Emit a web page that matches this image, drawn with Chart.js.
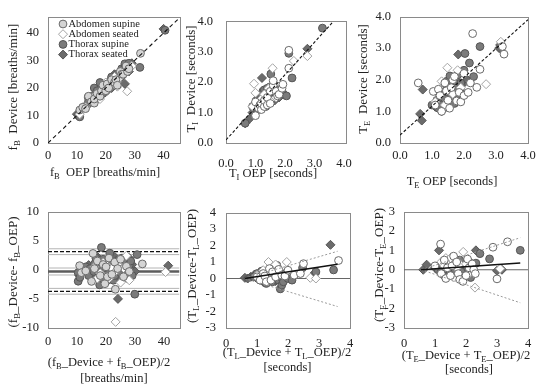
<!DOCTYPE html>
<html>
<head>
<meta charset="utf-8">
<script src="https://cdn.jsdelivr.net/npm/chart.js@4.4.0/dist/chart.umd.min.js"></script>
<style>
  html, body { margin: 0; padding: 0; background: #fff; }
  body { position: relative; width: 550px; height: 389px; overflow: hidden; }
  canvas { position: absolute; }
</style>
</head>
<body>
<canvas id="c1" width="185" height="190" style="left:0;top:0"></canvas>
<canvas id="c2" width="180" height="190" style="left:185px;top:0"></canvas>
<canvas id="c3" width="200" height="195" style="left:350px;top:0"></canvas>
<canvas id="c4" width="185" height="194" style="left:0;top:195px"></canvas>
<canvas id="c5" width="180" height="194" style="left:185px;top:195px"></canvas>
<canvas id="c6" width="185" height="194" style="left:365px;top:195px"></canvas>
<script>
const seriesNames = ['Abdomen supine', 'Abdomen seated', 'Thorax supine', 'Thorax seated'];

// fB  OEP vs Device [breaths/min]
const fbAbdomenSupine = [[11,12],[12,13],[13,12.5],[14,17],[15,15],[16,14.5],[16,16],[17,18],[18,17],[18.5,19],[19,21],[20,19],[20.5,21.5],[21,20],[22,23],[23,22],[23.5,23],[24,21],[25,26],[25.5,25],[26,25],[27,28],[27.5,26],[28,27],[32,32.6]];
const fbAbdomenSeated = [[11,10.5],[13,13],[15,16],[16,17],[17,17.5],[18,16],[19,19],[20,22],[21,21.5],[22,21],[23,24],[24,20.5],[25,24],[26,25.5],[27.4,18.8],[29,28]];
const fbThoraxSupine = [[10.5,10],[11,9.5],[13.9,16.7],[14,15],[15,17],[15.5,15.5],[16.8,19.7],[16,20],[17,19],[17.5,17],[18,22],[19,18],[19.5,20.5],[20,20],[21,21],[21.5,22.5],[22,24],[23,23],[24,25],[24.5,24],[25.5,27],[26,26.5],[26.6,28.8],[27,26],[27.5,28],[28,29],[31.8,27.5],[40.5,41]];
const fbThoraxSeated = [[10,10.5],[12.2,13],[14,14],[15,16],[16,15],[17,16],[18,18],[18.5,19.5],[19,20],[20,21],[20.5,19],[21,22],[22,20],[22.5,23],[23,25],[24,23],[24.5,25.5],[25,25],[25.5,24],[26,27],[26.6,21.5],[27,27],[28,26],[29,29],[40,41.5]];
const fbIdentity = [[0,0],[45.5,45.5]];

// TI  OEP vs Device [seconds]
const tiAbdomenSupine = [[1.0,0.9],[1.0,1.35],[1.1,1.15],[1.15,1.25],[1.2,1.1],[1.2,1.3],[1.3,1.2],[1.3,1.4],[1.4,1.25],[1.4,1.5],[1.5,1.3],[1.5,1.7],[1.6,1.9],[1.6,2.05],[1.7,1.7],[1.75,1.55],[1.8,1.6],[1.9,1.8],[1.93,1.93],[2.13,3.05],[2.13,2.46]];
const tiAbdomenSeated = [[0.9,1.2],[0.95,1.95],[1.0,1.65],[1.2,1.45],[1.3,1.6],[1.45,1.8],[1.5,1.4],[1.58,2.46],[1.7,1.5],[2.3,2.7],[2.76,2.86]];
const tiThoraxSupine = [[0.65,0.65],[0.9,1.2],[1.0,1.15],[1.0,1.3],[1.1,1.1],[1.1,1.45],[1.15,1.4],[1.2,1.35],[1.2,1.6],[1.25,1.25],[1.25,1.7],[1.3,1.75],[1.35,1.2],[1.35,1.5],[1.4,1.6],[1.4,1.8],[1.45,1.3],[1.5,1.6],[1.5,1.85],[1.52,2.27],[1.55,1.45],[1.6,1.8],[1.65,1.6],[1.7,1.6],[1.75,1.75],[1.85,1.65],[1.9,1.7],[1.95,1.6],[2.05,1.55],[2.13,2.95],[2.24,2.14],[3.27,3.78]];
const tiThoraxSeated = [[0.65,0.65],[0.8,0.8],[0.9,1.0],[1.0,1.1],[1.05,1.45],[1.1,1.25],[1.15,1.3],[1.22,2.14],[1.25,1.5],[1.3,1.45],[1.35,1.35],[1.4,1.7],[1.45,1.55],[1.5,1.5],[1.55,1.75],[1.65,1.4],[1.7,1.7],[1.8,1.5],[2.76,3.1]];
const tiFit = [[0,0.1],[3.64,4.0]];

// TE  OEP vs Device [seconds]
const teAbdomenSupine = [[0.57,1.9],[1.04,1.63],[1.1,1.2],[1.2,1.7],[1.25,1.5],[1.3,1.0],[1.4,1.9],[1.45,1.65],[1.5,1.35],[1.55,1.1],[1.6,1.75],[1.65,2.0],[1.7,2.1],[1.77,1.33],[1.85,1.6],[1.9,1.3],[2.0,2.2],[2.0,1.5],[2.13,1.6],[2.2,1.9],[2.27,3.46],[2.4,1.76],[2.5,2.33],[3.2,3.05],[3.25,2.81]];
const teAbdomenSeated = [[1.1,1.3],[1.2,1.55],[1.3,1.95],[1.4,1.2],[1.48,2.38],[1.5,1.7],[1.65,1.55],[1.8,2.3],[1.9,1.75],[2.69,1.86],[3.15,3.2]];
const teThoraxSupine = [[1.0,1.2],[1.15,1.35],[1.2,1.1],[1.2,1.3],[1.25,1.2],[1.3,1.2],[1.35,1.6],[1.35,1.45],[1.4,1.4],[1.45,1.95],[1.5,1.6],[1.56,2.12],[1.6,1.5],[1.6,1.8],[1.69,2.0],[1.7,1.25],[1.7,1.9],[1.75,1.7],[1.8,2.15],[1.8,1.75],[1.9,1.55],[1.9,1.9],[2.0,2.3],[2.03,2.83],[2.17,2.53],[2.3,2.1],[2.5,3.05]];
const teThoraxSeated = [[0.63,0.92],[0.68,0.71],[0.71,1.69],[1.1,1.15],[1.2,1.25],[1.25,1.3],[1.3,1.0],[1.35,1.2],[1.4,1.85],[1.45,1.5],[1.5,1.3],[1.6,1.9],[1.65,1.7],[1.7,1.6],[1.75,1.45],[1.82,2.8],[1.85,1.8],[1.95,1.6],[2.0,1.9],[2.1,2.0],[3.1,3.0],[3.13,3.1]];
const teFit = [[0,0.25],[4,3.9]];

// Bland-Altman fB: mean vs difference
const baFbAbdomenSupine = [[10.9,0.7],[11.5,-0.5],[13,-0.2],[15.5,2.8],[15,-2.0],[16,0.2],[17,1.5],[18,-1.0],[19,0.9],[19.6,-2.4],[20,0.5],[20.5,-1.2],[21,2.0],[22,-0.8],[23,1.3],[23.2,-3.35],[24,0.2],[25,1.8],[26,-1.2],[27,0.6],[28,-0.3],[32.5,1.0]];
const baFbAbdomenSeated = [[16,0.5],[17,-1.5],[18,-0.6],[19,1.2],[20,0.9],[21,-1.5],[22,0.2],[23,-0.4],[23.3,-8.95],[24,1.0],[25,-2.2],[26,0.3],[27,2.4],[28,-1.8],[40.5,-0.4]];
const baFbThoraxSupine = [[10.4,-0.5],[10.4,-1.97],[11,-1.3],[13,0.5],[14,-1.0],[14.5,0.2],[15.8,-0.3],[16,1.0],[16.5,2.0],[17,0.6],[17.5,-0.5],[17.8,-2.6],[18,1.2],[18.4,3.83],[19,1.8],[19,-1.6],[19.5,0.3],[20,0.0],[20.5,-0.8],[21,1.5],[21.3,2.85],[22,1.0],[22.5,-1.8],[23,-1.0],[23.5,0.8],[24,0.5],[24.5,-0.2],[25,-0.5],[25.5,2.0],[26,1.3],[26.5,0.2],[27,-0.8],[27.5,-1.5],[28,0.8],[28.5,1.5],[29,-1.0],[29.9,-4.2],[30.7,2.6]];
const baFbThoraxSeated = [[10.8,-1.0],[14,0.8],[15,-0.5],[16,-1.4],[17,2.2],[18,0.3],[18.5,-0.9],[19,-1.2],[20,1.3],[20,-2.2],[21,-0.2],[21.5,0.7],[22,2.2],[22.5,-0.6],[23,2.2],[23.5,1.5],[24,-1.5],[24.1,-5.0],[25,1.2],[25.5,-1.1],[26,-0.6],[26.5,1.6],[27,0.5],[27.5,-0.3],[28,2.0],[29,0.9],[30,-0.3],[41.4,0.7]];
const baFbBias = -0.3;
const baFbLimits = [3.1, -3.7];
const baFbCi = [0.3, -0.9, 3.6, 2.6, -3.2, -4.2];

// Bland-Altman TI
const baTiAbdomenSupine = [[1.0,0.1],[1.1,-0.1],[1.2,0.3],[1.25,0.15],[1.3,-0.2],[1.4,0.6],[1.45,-0.1],[1.5,0.4],[1.6,0.1],[1.7,0.55],[1.8,0.2],[1.9,0.15],[2.0,0.5],[2.2,0.2],[2.4,0.3],[2.5,0.9],[3.63,1.09]];
const baTiAbdomenSeated = [[1.0,0.2],[1.2,0.5],[1.3,0.05],[1.37,1.0],[1.4,0.4],[1.5,0.7],[1.6,0.85],[1.7,0.3],[1.96,1.0],[2.72,0.04],[2.9,0.0]];
const baTiThoraxSupine = [[0.9,0.1],[1.0,0.3],[1.05,0.15],[1.1,-0.1],[1.15,0.45],[1.2,0.4],[1.25,0.0],[1.3,-0.3],[1.3,0.35],[1.35,0.1],[1.4,0.2],[1.45,0.35],[1.5,-0.2],[1.55,-0.05],[1.6,0.5],[1.64,0.8],[1.65,0.25],[1.7,-0.1],[1.75,-0.63],[1.75,0.1],[1.8,-0.4],[1.85,-0.2],[1.9,0.3],[2.0,0.0],[2.13,-0.1],[2.47,0.65],[2.9,0.4],[3.47,0.52]];
const baTiThoraxSeated = [[0.61,0.04],[0.7,0.0],[0.8,0.1],[0.9,0.2],[1.0,0.0],[1.05,0.2],[1.1,0.3],[1.15,0.05],[1.2,-0.2],[1.25,0.15],[1.3,0.25],[1.4,-0.1],[1.45,0.15],[1.55,0.3],[1.6,-0.15],[1.65,0.1],[2.86,0.33],[3.37,2.04]];
const baTiBias = [[0.6,0],[3.6,0.86]];
const baTiUpper = [[0.6,0],[3.6,1.65]];
const baTiLower = [[0.6,0],[3.6,-1.7]];

// Bland-Altman TE
const baTeAbdomenSupine = [[1.0,0.2],[1.18,1.32],[1.2,-0.2],[1.3,0.5],[1.35,-0.45],[1.4,0.1],[1.5,-0.3],[1.55,0.2],[1.6,0.7],[1.7,0.4],[1.75,-0.2],[1.8,-0.5],[1.9,-0.6],[2.0,-0.3],[2.05,0.55],[2.1,0.1],[2.2,0.3],[2.25,0.0],[2.3,-0.2],[2.87,1.16],[3.0,-0.47],[3.34,1.44]];
const baTeAbdomenSeated = [[1.2,0.4],[1.3,0.2],[1.35,0.6],[1.45,0.45],[1.5,0.6],[1.6,-0.4],[1.7,0.1],[1.8,0.3],[1.91,0.92],[2.0,0.3],[2.1,-0.2],[2.29,-0.92],[3.1,0.05]];
const baTeThoraxSupine = [[1.1,0.0],[1.2,-0.1],[1.25,0.2],[1.3,-0.3],[1.35,0.05],[1.4,0.3],[1.45,-0.3],[1.5,0.1],[1.5,-0.15],[1.55,0.35],[1.6,-0.2],[1.65,0.0],[1.7,0.25],[1.75,0.15],[1.8,0.5],[1.85,-0.2],[1.9,0.0],[1.95,0.25],[2.0,-0.3],[2.05,0.1],[2.1,0.4],[2.15,-0.4],[2.2,-0.1],[2.32,0.34],[2.45,0.83],[2.76,0.56],[3.75,1.0]];
const baTeThoraxSeated = [[0.62,0.0],[0.73,0.26],[1.0,0.1],[1.13,1.0],[1.2,0.1],[1.25,0.3],[1.3,-0.1],[1.4,0.15],[1.45,-0.05],[1.5,0.2],[1.6,0.0],[1.7,0.35],[1.9,0.2],[2.0,0.1],[2.32,1.0],[3.0,-0.05],[3.16,0.0]];
const baTeBias = [[0.55,0],[3.75,0.35]];
const baTeUpper = [[0.55,0],[3.75,1.65]];
const baTeLower = [[0.55,0],[3.75,-1.7]];

const fbTicks = [0, 10, 20, 30, 40];
const secTicks = [0, 1, 2, 3, 4];
const baFbTicks = [-10, -5, 0, 5, 10];
const baTiTicks = [-3, -2, -1, 0, 1, 2, 3, 4];
const baTeTicks = [-3, -2, -1, 0, 1, 2, 3];

const FONT = 'Liberation Serif';
const toPts = arr => arr.map(p => ({x: p[0], y: p[1]}));

function markerStyle(i, lightAbdomen) {
    return [
        {pointStyle: 'circle', pointRadius: 3.9, backgroundColor: lightAbdomen ? '#d4d4d4' : '#ffffff', borderColor: '#6a6a6a'},
        {pointStyle: 'rectRot', pointRadius: 4.5, backgroundColor: '#ffffff', borderColor: '#a3a3a3'},
        {pointStyle: 'circle', pointRadius: 3.9, backgroundColor: '#7b7b7b', borderColor: '#555555'},
        {pointStyle: 'rectRot', pointRadius: 4.5, backgroundColor: '#6b6b6b', borderColor: '#555555'}
    ][i];
}

function scatterSets(series, lightAbdomen) {
    return series.map((arr, i) => Object.assign({
        label: seriesNames[i],
        data: toPts(arr),
        pointBorderWidth: 1
    }, markerStyle(i, lightAbdomen)));
}

function lineSet(data, color, width, dash) {
    return {
        data: data,
        showLine: true,
        pointRadius: 0,
        borderColor: color,
        backgroundColor: color,
        borderWidth: width,
        borderDash: dash || []
    };
}

function hLine(y, range) {
    return [{x: range[0], y: y}, {x: range[1], y: y}];
}

// "_{..}" marks a subscript
function parseRich(s) {
    const parts = [];
    const re = /_\{([^}]*)\}/g;
    let last = 0, m;
    while ((m = re.exec(s))) {
        if (m.index > last) parts.push({t: s.slice(last, m.index)});
        parts.push({t: m[1], sub: true});
        last = re.lastIndex;
    }
    if (last < s.length) parts.push({t: s.slice(last)});
    return parts;
}

function richText(ctx, text, cx, cy, size) {
    const parts = parseRich(text);
    const main = size + 'px "' + FONT + '"';
    const sub = (size * 0.68).toFixed(1) + 'px "' + FONT + '"';
    let w = 0;
    parts.forEach(p => {
        ctx.font = p.sub ? sub : main;
        p.w = ctx.measureText(p.t).width;
        w += p.w;
    });
    let x = cx - w / 2;
    ctx.textAlign = 'left';
    ctx.textBaseline = 'middle';
    parts.forEach(p => {
        ctx.font = p.sub ? sub : main;
        ctx.fillText(p.t, x, cy + (p.sub ? size * 0.3 : 0));
        x += p.w;
    });
}

function drawMarker(ctx, st, x, y) {
    const r = st.pointRadius;
    ctx.beginPath();
    if (st.pointStyle === 'circle') {
        ctx.arc(x, y, r, 0, Math.PI * 2);
    } else {
        ctx.moveTo(x, y - r);
        ctx.lineTo(x + r, y);
        ctx.lineTo(x, y + r);
        ctx.lineTo(x - r, y);
        ctx.closePath();
    }
    ctx.fillStyle = st.backgroundColor;
    ctx.fill();
    ctx.lineWidth = 1;
    ctx.strokeStyle = st.borderColor;
    ctx.stroke();
}

const framePlugin = {
    id: 'frame',
    beforeDatasetsDraw(chart) {
        const {ctx, chartArea: a} = chart;
        ctx.save();
        ctx.strokeStyle = '#8a8a8a';
        ctx.lineWidth = 1;
        const l = Math.round(a.left) + 0.5, t = Math.round(a.top) + 0.5;
        ctx.strokeRect(l, t, Math.round(a.right) - Math.round(a.left), Math.round(a.bottom) - Math.round(a.top));
        ctx.restore();
    }
};

function makePanel(id, cfg) {
    const canvas = document.getElementById(id);
    const W = canvas.width, H = canvas.height;
    const area = cfg.area;
    const tickFont = {family: FONT, size: 12.5};
    const fmt = v => cfg.decimals ? Number(v).toFixed(cfg.decimals) : String(v);

    const textPlugin = {
        id: 'axisText',
        afterDraw(chart) {
            const ctx = chart.ctx;
            ctx.save();
            ctx.fillStyle = '#222';
            cfg.xTitle.forEach(t => richText(ctx, t.text, t.x, t.y, 12.5));
            ctx.save();
            ctx.translate(cfg.yTitle.x, cfg.yTitle.y);
            ctx.rotate(-Math.PI / 2);
            richText(ctx, cfg.yTitle.text, 0, 0, 13);
            ctx.restore();
            if (cfg.legend) {
                seriesNames.forEach((name, i) => {
                    const y = cfg.legend.y + i * cfg.legend.dy;
                    drawMarker(ctx, markerStyle(i, true), cfg.legend.x, y);
                    ctx.fillStyle = '#222';
                    ctx.font = cfg.legend.size + 'px "' + FONT + '"';
                    ctx.textAlign = 'left';
                    ctx.textBaseline = 'middle';
                    ctx.fillText(name, cfg.legend.x + 5.5, y);
                });
            }
            ctx.restore();
        }
    };

    return new Chart(canvas, {
        type: 'scatter',
        data: {datasets: cfg.datasets},
        options: {
            responsive: false,
            animation: false,
            events: [],
            layout: {padding: {left: 0, top: area[1], right: W - area[2], bottom: 0}},
            plugins: {legend: {display: false}, tooltip: {enabled: false}},
            scales: {
                x: {
                    type: 'linear', min: cfg.x[0], max: cfg.x[1],
                    afterBuildTicks: s => { s.ticks = cfg.xTicks.map(v => ({value: v})); },
                    afterFit: s => { s.height = H - area[3]; },
                    grid: {display: false, drawTicks: false},
                    border: {display: false},
                    ticks: {padding: cfg.xPad, font: tickFont, color: '#222', maxRotation: 0, autoSkip: false, callback: fmt}
                },
                y: {
                    type: 'linear', min: cfg.y[0], max: cfg.y[1],
                    afterBuildTicks: s => { s.ticks = cfg.yTicks.map(v => ({value: v})); },
                    afterFit: s => { s.width = area[0]; },
                    grid: {display: false, drawTicks: false},
                    border: {display: false},
                    ticks: {padding: cfg.yPad, font: tickFont, color: '#222', autoSkip: false, callback: fmt}
                }
            }
        },
        plugins: [framePlugin, textPlugin]
    });
}

makePanel('c1', {
    area: [48, 15, 180, 143], x: [0, 45.5], y: [0, 46], xTicks: fbTicks, yTicks: fbTicks,
    xPad: 5, yPad: 9,
    xTitle: [{text: 'f_{B}  OEP [breaths/min]', x: 105, y: 173}],
    yTitle: {text: 'f_{B}  Device [breaths/min]', x: 14, y: 87},
    legend: {x: 63, y: 24, dy: 10.2, size: 10.5},
    datasets: [lineSet(toPts(fbIdentity), '#111', 1.1, [4, 3])].concat(
        scatterSets([fbAbdomenSupine, fbAbdomenSeated, fbThoraxSupine, fbThoraxSeated], true))
});

makePanel('c2', {
    area: [41, 18, 165, 143], x: [0, 4.06], y: [0, 4.03], xTicks: secTicks, yTicks: secTicks, decimals: 1,
    xPad: 13, yPad: 13,
    xTitle: [{text: 'T_{I} OEP [seconds]', x: 88, y: 174}],
    yTitle: {text: 'T_{I}  Device [seconds]', x: 7, y: 79},
    datasets: [lineSet(toPts(tiFit), '#111', 1.1, [3, 2])].concat(
        scatterSets([tiAbdomenSupine, tiAbdomenSeated, tiThoraxSupine, tiThoraxSeated], false))
});

makePanel('c3', {
    area: [50, 15, 178, 143], x: [0, 4], y: [0, 4], xTicks: secTicks, yTicks: secTicks, decimals: 1,
    xPad: 5, yPad: 9,
    xTitle: [{text: 'T_{E} OEP [seconds]', x: 102, y: 182}],
    yTitle: {text: 'T_{E}  Device [seconds]', x: 14, y: 79},
    datasets: [lineSet(toPts(teFit), '#111', 1.1, [3, 2])].concat(
        scatterSets([teAbdomenSupine, teAbdomenSeated, teThoraxSupine, teThoraxSeated], false))
});

const baFbRange = [0, 45.3];
makePanel('c4', {
    area: [48, 10, 180, 133], x: baFbRange, y: [-10, 10], xTicks: fbTicks, yTicks: baFbTicks,
    xPad: 6, yPad: 9,
    xTitle: [{text: '(f_{B}_Device + f_{B}_OEP)/2', x: 109, y: 168}, {text: '[breaths/min]', x: 114, y: 184}],
    yTitle: {text: '(f_{B}_Device- f_{B}_OEP)', x: 14, y: 77},
    datasets: scatterSets([baFbAbdomenSupine, baFbAbdomenSeated, baFbThoraxSupine, baFbThoraxSeated], true)
        .concat(baFbLimits.map(v => lineSet(hLine(v, baFbRange), '#111', 1.2, [4, 2])))
        .concat([lineSet(hLine(baFbBias, baFbRange), '#5c5c5c', 2.6)])
        .concat(baFbCi.map(v => lineSet(hLine(v, baFbRange), '#b4b4b4', 1)))
});

makePanel('c5', {
    area: [41, 10, 165, 133], x: [0, 4], y: [-3, 4], xTicks: secTicks, yTicks: baTiTicks,
    xPad: 8, yPad: 10,
    xTitle: [{text: '(T_{L}_Device + T_{L}_OEP)/2', x: 102, y: 158}, {text: '[seconds]', x: 102.5, y: 172.5}],
    yTitle: {text: '(T_{L}_Device-T_{L}_OEP)', x: 8, y: 71},
    datasets: [
        lineSet(toPts(baTiBias), '#111', 1.5),
        lineSet(toPts(baTiUpper), '#9a9a9a', 1, [2, 2]),
        lineSet(toPts(baTiLower), '#9a9a9a', 1, [2, 2])
    ].concat(scatterSets([baTiAbdomenSupine, baTiAbdomenSeated, baTiThoraxSupine, baTiThoraxSeated], false))
     .concat([lineSet(hLine(0, [0, 4]), '#666', 1.2)])
});

makePanel('c6', {
    area: [39, 10, 163, 133], x: [0, 4], y: [-3, 3], xTicks: secTicks, yTicks: baTeTicks,
    xPad: 8, yPad: 9,
    xTitle: [{text: '(T_{E}_Device + T_{E}_OEP)/2', x: 101, y: 161}, {text: '[seconds]', x: 104, y: 175}],
    yTitle: {text: '(T_{E}_Device-T_{E}_OEP)', x: 15, y: 70},
    datasets: [
        lineSet(toPts(baTeBias), '#111', 1.5),
        lineSet(toPts(baTeUpper), '#9a9a9a', 1, [2, 2]),
        lineSet(toPts(baTeLower), '#9a9a9a', 1, [2, 2])
    ].concat(scatterSets([baTeAbdomenSupine, baTeAbdomenSeated, baTeThoraxSupine, baTeThoraxSeated], false))
     .concat([lineSet(hLine(0, [0, 4]), '#666', 1.2)])
});
</script>
</body>
</html>
